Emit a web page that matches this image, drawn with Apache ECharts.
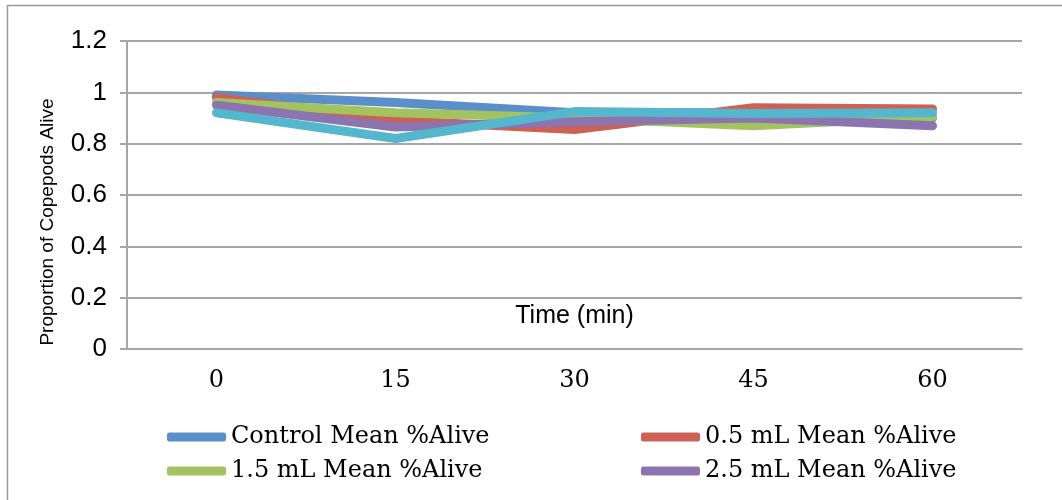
<!DOCTYPE html>
<html>
<head>
<meta charset="utf-8">
<script src="https://cdn.jsdelivr.net/npm/echarts@6/dist/echarts.min.js"></script>
<style>
  html, body { margin: 0; padding: 0; background: #fff; }
  #chart { width: 1062px; height: 500px; }
</style>
</head>
<body>
<div id="chart"></div>
<script>
  const times = ['0', '15', '30', '45', '60'];
  const seriesNames = ['Control Mean %Alive', '0.5 mL Mean %Alive', '1.5 mL Mean %Alive', '2.5 mL Mean %Alive', '3.5 mL Mean %Alive'];
  const control = [0.99, 0.96, 0.92, 0.92, 0.90];
  const ml05 = [0.98, 0.89, 0.855, 0.94, 0.935];
  const ml15 = [0.96, 0.92, 0.90, 0.87, 0.905];
  const ml25 = [0.95, 0.865, 0.885, 0.90, 0.87];
  const ml35 = [0.92, 0.82, 0.925, 0.918, 0.92];
  const colors = ['#5A8FC9', '#CE6155', '#A2C360', '#8C74AF', '#55B7CE'];

  const chart = echarts.init(document.getElementById('chart'));
  const allData = [control, ml05, ml15, ml25, ml35];

  const legendStyle = {
    orient: 'vertical',
    top: 420,
    itemGap: 10,
    itemWidth: 59,
    itemHeight: 9,
    icon: 'roundRect',
    textStyle: { fontFamily: 'DejaVu Serif', fontSize: 24, color: '#000', lineHeight: 24 }
  };

  const option = {
    animation: false,
    color: colors,
    graphic: [{
      type: 'rect',
      shape: { x: 7.5, y: 5.5, width: 1200, height: 700 },
      style: { fill: 'none', stroke: '#9a9a9a', lineWidth: 1.5 },
      silent: true
    }],
    legend: [
      Object.assign({ left: 162, data: [seriesNames[0], seriesNames[2]] }, legendStyle),
      Object.assign({ left: 636, data: [seriesNames[1], seriesNames[3]] }, legendStyle)
    ],
    grid: { left: 127, right: 40, top: 41, bottom: 151 },
    xAxis: {
      type: 'category',
      data: times,
      name: 'Time (min)',
      nameLocation: 'middle',
      nameGap: -45,
      nameTextStyle: { fontFamily: 'Liberation Sans', fontSize: 25, color: '#000', padding: [0, 0, 0, 0] },
      axisLine: { lineStyle: { color: '#a6a6a6', width: 2 } },
      axisTick: { length: 6, lineStyle: { color: '#a6a6a6', width: 2 } },
      axisLabel: { fontFamily: 'DejaVu Serif', fontSize: 24, color: '#000', margin: 20 }
    },
    yAxis: {
      type: 'value',
      min: 0,
      max: 1.2,
      interval: 0.2,
      name: 'Proportion of Copepods Alive',
      nameLocation: 'middle',
      nameGap: 70,
      nameTextStyle: { fontFamily: 'Liberation Sans', fontSize: 19, color: '#000', padding: [0, 54, 0, 0] },
      axisLine: { show: true, lineStyle: { color: '#a6a6a6', width: 2 } },
      axisTick: { show: true, length: 7, lineStyle: { color: '#a6a6a6', width: 2 } },
      axisLabel: { fontFamily: 'Liberation Sans', fontSize: 26, color: '#000', margin: 20 },
      splitLine: { lineStyle: { color: '#a6a6a6', width: 2 } }
    },
    series: allData.map((d, i) => ({
      name: seriesNames[i],
      type: 'line',
      data: d,
      symbol: 'none',
      lineStyle: { width: 9, cap: 'round', join: 'round', color: colors[i] }
    }))
  };

  chart.setOption(option);
</script>
</body>
</html>
